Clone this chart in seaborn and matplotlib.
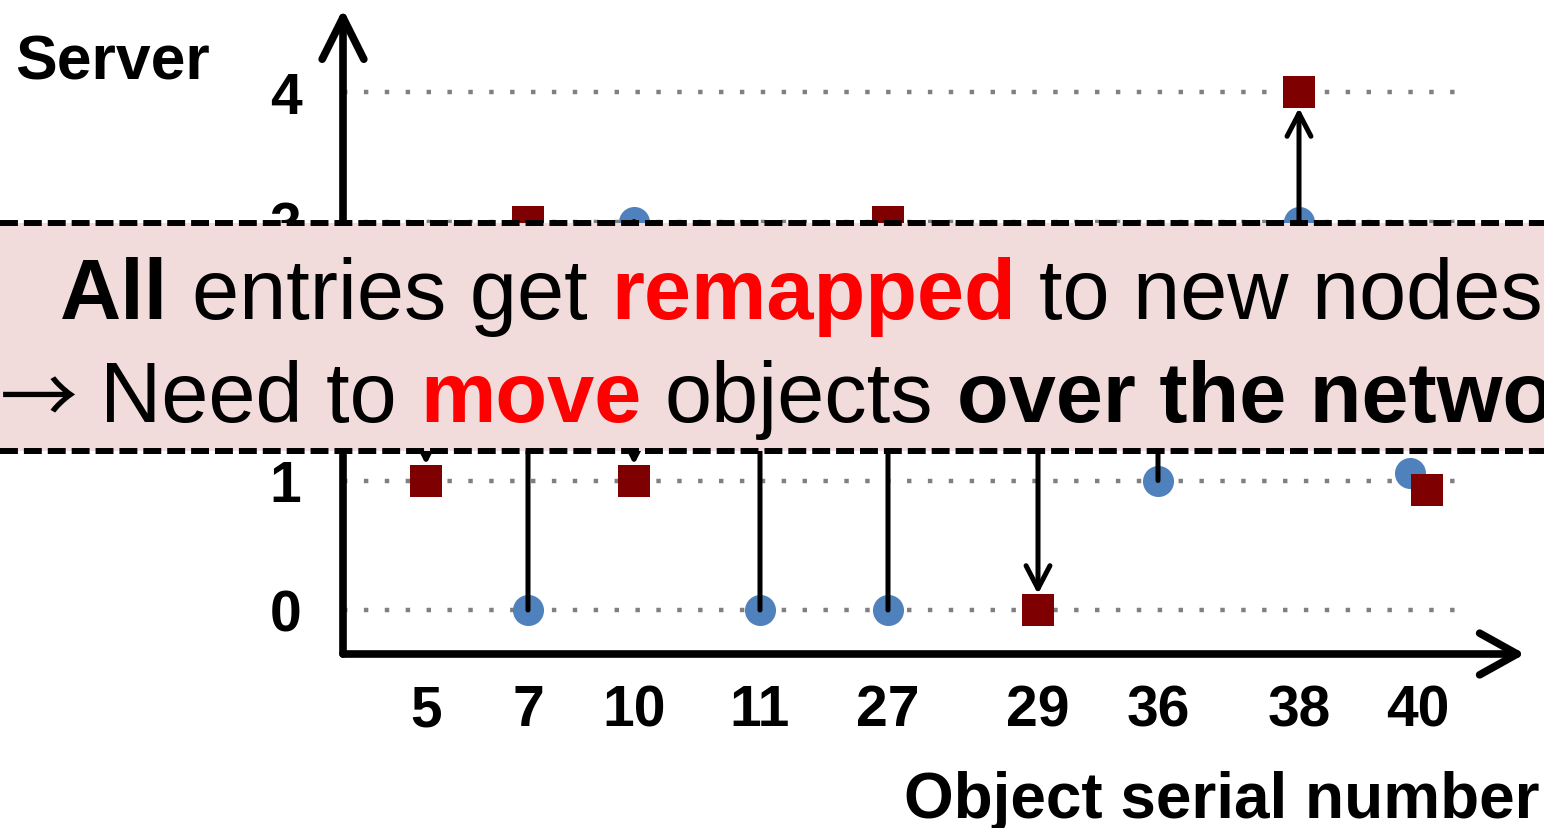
import matplotlib
matplotlib.use("Agg")
import matplotlib.pyplot as plt
import matplotlib.transforms as mtransforms
from matplotlib.patches import Rectangle
from matplotlib.lines import Line2D
import pandas as pd
import seaborn as sns

# ---------------- data ----------------
objects = [5, 7, 10, 11, 27, 29, 36, 38, 40]
old_server = [2, 0, 3, 0, 0, 2, 1, 3, 1]
new_server = [1, 3, 1, 2, 3, 0, 2, 4, 1]
server_levels = [0, 1, 2, 3, 4]
server_labels = ["0", "1", "2", "3", "4"]
object_labels = [str(o) for o in objects]

# layout: horizontal slot of each object along the axis
slot = [0.83, 1.85, 2.91, 4.17, 5.45, 6.95, 8.15, 9.56, 10.75]

line1_runs = [("All", "bold", "black"),
              ("entries get", "normal", "black"),
              ("remapped", "bold", "#FF0000"),
              ("to new nodes", "normal", "black")]
arrow_sign = "\u2192"
line2_runs = [("Need to", "normal", "black"),
              ("move", "bold", "#FF0000"),
              ("objects", "normal", "black"),
              ("over the network", "bold", "black")]

# ---------------- style ----------------
W, H = 1544, 829
BLUE = "#4F81BD"
RED = "#7F0000"
sns.set_theme(style="white")
plt.rcParams["font.family"] = ["Liberation Sans", "DejaVu Sans"]
plt.rcParams["text.color"] = "black"
plt.rcParams["axes.labelcolor"] = "black"

fig = plt.figure(figsize=(W / 100, H / 100), dpi=100)
fig.patch.set_facecolor("white")

def fx(px):
    return px / W

def fy(py):
    return 1 - py / H

ax_left, ax_right, ax_top, ax_bottom = 343, 1525, 10, 655
ax = fig.add_axes([fx(ax_left), fy(ax_bottom), (ax_right - ax_left) / W, (ax_bottom - ax_top) / H])
ax.set_facecolor("none")
px_per_unit = 129.5
zero_px = 611
ax.set_ylim(-(ax_bottom - zero_px) / px_per_unit, (zero_px - ax_top) / px_per_unit)
ax.set_xlim(0, (ax_right - ax_left) / 100)
for s in ax.spines.values():
    s.set_visible(False)

# dotted server levels
ax.hlines(server_levels, 0, 11.14, colors="#808080", linewidth=3.2,
          linestyles=[(0, (1, 3.7))], zorder=1)

df = pd.DataFrame({"obj": objects, "slot": slot, "old": old_server, "new": new_server})
df["stay"] = df["old"] == df["new"]
moved = df[~df["stay"]]
stay = df[df["stay"]]

MS = 500
sns.scatterplot(data=moved, x="slot", y="old", marker="o", s=MS, color=BLUE,
                linewidth=0, zorder=3, ax=ax, legend=False)
sns.scatterplot(data=moved, x="slot", y="new", marker="s", s=MS, color=RED,
                linewidth=0, zorder=5, ax=ax, legend=False)
# unchanged entries: drawn slightly apart so both marks show
off_old = mtransforms.offset_copy(ax.transData, fig=fig, x=-8, y=8, units="dots")
off_new = mtransforms.offset_copy(ax.transData, fig=fig, x=9, y=-9, units="dots")
sns.scatterplot(data=stay, x="slot", y="old", marker="o", s=MS, color=BLUE,
                linewidth=0, zorder=3, ax=ax, legend=False, transform=off_old)
sns.scatterplot(data=stay, x="slot", y="new", marker="s", s=MS, color=RED,
                linewidth=0, zorder=5, ax=ax, legend=False, transform=off_new)

# move arrows
for _, r in moved.iterrows():
    ax.annotate("", xy=(r["slot"], r["new"]), xytext=(r["slot"], r["old"]),
                arrowprops=dict(arrowstyle="->,head_length=1.65,head_width=0.86",
                                mutation_scale=10, lw=3.6, color="black",
                                shrinkA=0, shrinkB=11.5, capstyle="round",
                                joinstyle="round"),
                zorder=4)

# axis arrows
ax.annotate("", xy=(0, 1), xytext=(0, 0), xycoords="axes fraction",
            arrowprops=dict(arrowstyle="->,head_length=3.0,head_width=1.5",
                            mutation_scale=10, lw=5.5, color="black",
                            shrinkA=0, shrinkB=0, capstyle="round", joinstyle="round"),
            zorder=6)
ax.annotate("", xy=(1, 0), xytext=(0, 0), xycoords="axes fraction",
            arrowprops=dict(arrowstyle="->,head_length=2.7,head_width=1.5",
                            mutation_scale=10, lw=5.5, color="black",
                            shrinkA=0, shrinkB=0, capstyle="round", joinstyle="round"),
            zorder=6)

ax.set_xticks(slot)
ax.set_xticklabels(object_labels, fontsize=41, fontweight="bold", color="black")
ax.set_yticks(server_levels)
ax.set_yticklabels(server_labels, fontsize=41, fontweight="bold", color="black")
ax.tick_params(axis="x", length=0, pad=21)
ax.tick_params(axis="y", length=0, pad=30)
ax.set_xlabel("")
ax.set_ylabel("")
ax.grid(False)

fig.text(fx(15), fy(80), "Server", fontsize=45, fontweight="bold", va="baseline",
         ha="left", color="black")
fig.text(fx(1540), fy(818), "Object serial number", fontsize=46, fontweight="bold",
         va="baseline", ha="right", color="black")

# ---------------- overlay box ----------------
box_top, box_bot = 224, 452
fig.add_artist(Rectangle((0, fy(box_bot)), 1, (box_bot - box_top) / H,
                         transform=fig.transFigure, facecolor="#F2DCDB",
                         edgecolor="none", zorder=10))
for yy in (box_top, box_bot):
    fig.add_artist(Line2D([0, 1], [fy(yy), fy(yy)], transform=fig.transFigure,
                          color="black", linewidth=4.3, linestyle=(0, (3, 1)),
                          dash_capstyle="butt", zorder=11))

FS = 61
renderer = fig.canvas.get_renderer()

def text_width(s, weight):
    t = fig.text(0, 0, s, fontsize=FS, fontweight=weight)
    w = t.get_window_extent(renderer).width
    t.remove()
    return w

space_w = text_width("x x", "normal") - text_width("xx", "normal")

def draw_runs(runs, x_px, y_px):
    x = x_px
    for s, weight, color in runs:
        t = fig.text(fx(x), fy(y_px), s, fontsize=FS, fontweight=weight, color=color,
                     va="baseline", ha="left", zorder=12)
        x += t.get_window_extent(renderer).width + space_w

draw_runs(line1_runs, 60, 319)
fig.text(fx(0), fy(424), arrow_sign, fontsize=56, color="black", va="baseline", ha="left",
         family=["Noto Sans CJK JP", "DejaVu Sans"], zorder=12)
draw_runs(line2_runs, 100, 422)

fig.savefig("out.png", dpi=100)
